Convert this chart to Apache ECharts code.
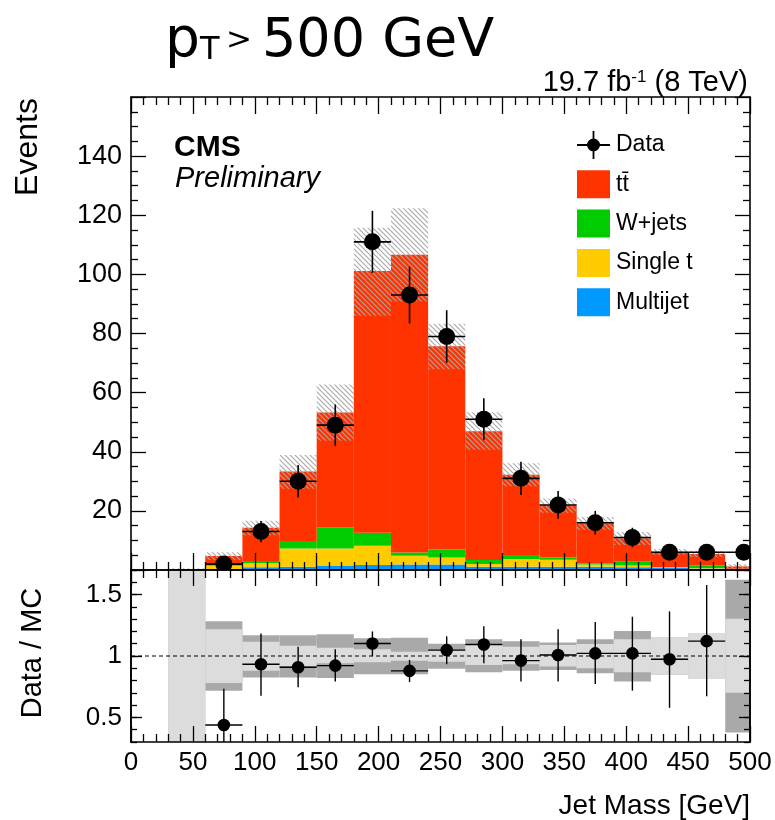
<!DOCTYPE html>
<html><head><meta charset="utf-8">
<script src="https://cdn.jsdelivr.net/npm/echarts@6/dist/echarts.min.js"></script>
<style>html,body{margin:0;padding:0;background:#fff}#c{width:775px;height:820px}</style>
</head><body><div id="c"></div>
<script>
// ---------------- data ----------------
const binLow  = [30,60,90,120,150,180,210,240,270,300,330,360,390,420,450,480];
const binHigh = [60,90,120,150,180,210,240,270,300,330,360,390,420,450,480,510];
const multijet  = [0,0.3,0.9,1.1,1.5,1.7,1.9,1.9,1.1,1.1,1.1,1.1,0.9,0.8,0.5,0.2];
const singleTop = [0,1.1,1.4,6.2,5.8,6.5,2.9,2.3,0.9,2.6,2.4,0.8,0.6,0.1,0.2,0.1];
const wJets     = [0,0.1,0.75,2.5,7.2,4.4,1.1,2.7,1.4,1.4,0.7,0.4,1.3,0.1,0.9,0.1];
const ttbar     = [0.3,3.2,11.2,23.5,38.8,88.5,100.7,68.8,43.5,27.1,17.6,13.5,7.9,5.2,3.8,0.8];
const dataCounts = [null,2,13,30,49,111,93,79,51,31,22,16,11,6,6,6];
const dataErr    = [null,1.4,3.6,5.5,7.0,10.5,9.6,8.9,7.1,5.6,4.7,4.0,3.3,2.4,2.4,2.4];
const ratioVal   = [null,0.438,0.933,0.909,0.922,1.102,0.879,1.048,1.094,0.962,1.008,1.021,1.021,0.973,1.121,null];
const ratioLow   = [null,0.14,0.677,0.745,0.793,0.998,0.788,0.933,0.941,0.793,0.793,0.772,0.718,0.578,0.672,null];
const ratioHigh  = [null,0.734,1.183,1.075,1.054,1.20,0.968,1.16,1.242,1.137,1.218,1.277,1.32,1.363,1.578,null];
const totUncLow  = [0,0.718,0.825,0.825,0.82,0.851,0.852,0.897,0.868,0.879,0.887,0.86,0.793,0.847,0.812,0.377];
const totUncHigh = [2,1.282,1.169,1.169,1.177,1.145,1.148,1.10,1.137,1.121,1.11,1.137,1.204,1.151,1.188,1.62];
const sysUncLow  = [0,0.78,0.879,0.919,0.941,0.95,0.962,0.954,0.927,0.933,0.914,0.90,0.868,0.847,0.812,0.70];
const sysUncHigh = [2,1.218,1.116,1.083,1.067,1.055,1.035,1.048,1.089,1.075,1.089,1.097,1.137,1.151,1.188,1.304];
const ratioTicks = [0.5, 1, 1.5];
const legendNames = ['Data', 'tt\u0304', 'W+jets', 'Single t', 'Multijet'];

// ---------------- helpers ----------------
const FONT = '"Liberation Sans", Arial, Helvetica, sans-serif';
const chart = echarts.init(document.getElementById('c'), null, {renderer: 'canvas'});

const pc = document.createElement('canvas'); pc.width = 5; pc.height = 5;
(function () {
  const g = pc.getContext('2d');
  g.strokeStyle = '#a8a8a8'; g.lineWidth = 1.1;
  g.beginPath();
  g.moveTo(0, 0); g.lineTo(5, 5);
  g.moveTo(-1, 4); g.lineTo(1, 6);
  g.moveTo(4, -1); g.lineTo(6, 1);
  g.stroke();
})();
const hatchFill = {image: pc, repeat: 'repeat'};

function rectRenderer(fill) {
  return function (params, api) {
    const lo = api.value(0), hi = api.value(1), b = api.value(2), t = api.value(3);
    const p1 = api.coord([lo, t]), p2 = api.coord([hi, b]);
    const cs = params.coordSys;
    const shape = echarts.graphic.clipRectByRect(
      {x: p1[0], y: p1[1], width: p2[0] - p1[0], height: p2[1] - p1[1]},
      {x: cs.x, y: cs.y, width: cs.width, height: cs.height});
    if (!shape) return null;
    return {type: 'rect', shape: shape, style: {fill: fill}};
  };
}
function pointRenderer(r, lw) {
  return function (params, api) {
    const lo = api.value(0), hi = api.value(1), v = api.value(2), down = api.value(3), up = api.value(4);
    const xc = (lo + hi) / 2;
    const c = api.coord([xc, v]), l = api.coord([lo, v]), rr = api.coord([hi, v]);
    const t = api.coord([xc, up]), b = api.coord([xc, down]);
    return {type: 'group', children: [
      {type: 'line', shape: {x1: l[0], y1: c[1], x2: rr[0], y2: c[1]}, style: {stroke: '#000', lineWidth: lw}},
      {type: 'line', shape: {x1: c[0], y1: t[1], x2: c[0], y2: b[1]}, style: {stroke: '#000', lineWidth: lw}},
      {type: 'circle', shape: {cx: c[0], cy: c[1], r: r}, style: {fill: '#000'}}
    ]};
  };
}

// cumulative stack
const comps = [
  {name: legendNames[4], vals: multijet, color: '#0099ff'},
  {name: legendNames[3], vals: singleTop, color: '#ffcc00'},
  {name: legendNames[2], vals: wJets, color: '#00cc00'},
  {name: legendNames[1], vals: ttbar, color: '#ff3300'}
];
const base = binLow.map(() => 0);
const stackSeries = comps.map(cmp => {
  const d = binLow.map((lo, i) => [lo, binHigh[i], base[i], base[i] + cmp.vals[i]]);
  cmp.vals.forEach((v, i) => { base[i] += v; });
  return {type: 'custom', name: cmp.name, xAxisIndex: 0, yAxisIndex: 0, z: 2,
    itemStyle: {color: cmp.color}, renderItem: rectRenderer(cmp.color), data: d, silent: true};
});
const mcTotal = base.slice();

const hatchData = binLow.map((lo, i) => [lo, binHigh[i], mcTotal[i] * totUncLow[i], mcTotal[i] * totUncHigh[i]]);
const mainPoints = [];
binLow.forEach((lo, i) => {
  if (dataCounts[i] !== null) mainPoints.push([lo, binHigh[i], dataCounts[i], dataCounts[i] - dataErr[i], dataCounts[i] + dataErr[i]]);
});
const ratioPoints = [];
binLow.forEach((lo, i) => {
  if (ratioVal[i] !== null) ratioPoints.push([lo, binHigh[i], ratioVal[i], ratioLow[i], ratioHigh[i]]);
});
const outerBand = binLow.map((lo, i) => [lo, binHigh[i], totUncLow[i], totUncHigh[i]]);
const innerBand = binLow.map((lo, i) => [lo, binHigh[i], sysUncLow[i], sysUncHigh[i]]);

// ---------------- axes ----------------
const AL = {show: true, onZero: false, lineStyle: {color: '#000', width: 1.6}};
function xAx(grid, pos, showLabel, tl, ml) {
  return {type: 'value', gridIndex: grid, position: pos, min: 0, max: 500, interval: 50, z: 10,
    axisLine: AL,
    axisTick: {show: true, inside: true, length: tl, lineStyle: {color: '#000', width: 1.3}},
    minorTick: {show: true, splitNumber: 5, length: ml, lineStyle: {color: '#000', width: 1.3}},
    splitLine: {show: false}, minorSplitLine: {show: false},
    axisLabel: {show: showLabel, fontFamily: FONT, fontSize: 26, color: '#000', margin: 8,
      showMinLabel: true, showMaxLabel: true}};
}
function yMain(pos, showLabel) {
  return {type: 'value', gridIndex: 0, position: pos, min: 0, max: 160, interval: 20, z: 10,
    axisLine: AL,
    axisTick: {show: true, inside: true, length: 15, lineStyle: {color: '#000', width: 1.3}},
    minorTick: {show: true, splitNumber: 4, length: 7, lineStyle: {color: '#000', width: 1.3}},
    splitLine: {show: false}, minorSplitLine: {show: false},
    axisLabel: {show: showLabel, fontFamily: FONT, fontSize: 27, color: '#000', margin: 9,
      formatter: v => (v === 0 || v === 160) ? '' : String(v)}};
}
function yRatioMajor(pos, showLabel) {
  return {type: 'value', gridIndex: 1, position: pos, min: 0.3, max: 1.7, z: 10,
    axisLine: AL,
    axisTick: {show: true, inside: true, length: 11, customValues: ratioTicks, lineStyle: {color: '#000', width: 1.3}},
    splitLine: {show: false},
    axisLabel: {show: showLabel, customValues: ratioTicks, fontFamily: FONT, fontSize: 26, color: '#000', margin: 9}};
}
function yRatioMinor(pos) {
  return {type: 'value', gridIndex: 1, position: pos, min: 0.3, max: 1.7, interval: 0.1, z: 10,
    axisLine: AL,
    axisTick: {show: true, inside: true, length: 6, lineStyle: {color: '#000', width: 1.3}},
    splitLine: {show: false}, axisLabel: {show: false}};
}

const dataIcon = 'path://M0,13 L33,13 L33,15 L0,15 Z M15.6,0 L17.4,0 L17.4,28 L15.6,28 Z M23,14 A6.5,6.5 0 1,1 10,14 A6.5,6.5 0 1,1 23,14 Z';

const option = {
  animation: false,
  backgroundColor: '#fff',
  grid: [
    {left: 131, right: 25, top: 97, height: 473, outerBoundsMode: 'none'},
    {left: 131, right: 25, top: 570, height: 172, outerBoundsMode: 'none'}
  ],
  xAxis: [xAx(0, 'bottom', false, 17, 8), xAx(0, 'top', false, 17, 8), xAx(1, 'bottom', true, 16, 8), xAx(1, 'top', false, 16, 8)],
  yAxis: [yMain('left', true), yMain('right', false), yRatioMajor('left', true), yRatioMinor('left'), yRatioMajor('right', false), yRatioMinor('right')],
  legend: {
    orient: 'vertical', left: 577, top: 131, padding: 0, itemGap: 11.3,
    itemWidth: 33, itemHeight: 28, selectedMode: false,
    textStyle: {fontFamily: FONT, fontSize: 23, color: '#000', padding: [0, 0, 0, 1]},
    data: [
      {name: legendNames[0], icon: dataIcon},
      {name: legendNames[1], icon: 'rect'},
      {name: legendNames[2], icon: 'rect'},
      {name: legendNames[3], icon: 'rect'},
      {name: legendNames[4], icon: 'rect'}
    ]
  },
  series: stackSeries.concat([
    {type: 'custom', xAxisIndex: 0, yAxisIndex: 0, z: 3, silent: true,
      renderItem: rectRenderer(hatchFill), data: hatchData},
    {type: 'custom', name: legendNames[0], xAxisIndex: 0, yAxisIndex: 0, z: 5, clip: true, silent: true,
      itemStyle: {color: '#000'}, renderItem: pointRenderer(8.5, 1.6), data: mainPoints},
    {type: 'custom', xAxisIndex: 2, yAxisIndex: 2, z: 1, silent: true,
      renderItem: rectRenderer('#a9a9a9'), data: outerBand},
    {type: 'custom', xAxisIndex: 2, yAxisIndex: 2, z: 1, silent: true,
      renderItem: rectRenderer('#dcdcdc'), data: innerBand},
    {type: 'line', xAxisIndex: 2, yAxisIndex: 2, z: 3, silent: true, symbol: 'none',
      lineStyle: {color: '#000', width: 1, type: [4, 3]}, data: [[0, 1], [500, 1]]},
    {type: 'custom', xAxisIndex: 2, yAxisIndex: 2, z: 5, clip: true, silent: true,
      renderItem: pointRenderer(6.3, 1.4), data: ratioPoints}
  ]),
  graphic: [
    {type: 'text', x: 165, y: 41.7, style: {text: 'p', font: '55px "DejaVu Sans"', fill: '#000', align: 'left', verticalAlign: 'middle'}},
    {type: 'text', x: 200, y: 50.5, style: {text: 'T', font: '32px "DejaVu Sans"', fill: '#000', align: 'left', verticalAlign: 'middle'}},
    {type: 'text', x: 226, y: 41, style: {text: '>', font: '31px "DejaVu Sans"', fill: '#000', align: 'left', verticalAlign: 'middle'}},
    {type: 'text', x: 262, y: 41.7, style: {text: '500 GeV', font: '54px "DejaVu Sans"', fill: '#000', align: 'left', verticalAlign: 'middle'}},
    {type: 'text', x: 748, y: 83, style: {text: '19.7 fb{s|-1} (8 TeV)', font: '29px ' + FONT, fill: '#000', align: 'right', verticalAlign: 'middle',
      rich: {s: {fontSize: 17, fontFamily: FONT, fill: '#000', verticalAlign: 'top'}}}},
    {type: 'text', x: 174, y: 147.7, style: {text: 'CMS', font: 'bold 30px ' + FONT, fill: '#000', align: 'left', verticalAlign: 'middle'}},
    {type: 'text', x: 175, y: 179, style: {text: 'Preliminary', font: 'italic 29px ' + FONT, fill: '#000', align: 'left', verticalAlign: 'middle'}},
    {type: 'text', x: 28, y: 147, rotation: Math.PI / 2, style: {text: 'Events', font: '32px ' + FONT, fill: '#000', align: 'center', verticalAlign: 'middle'}},
    {type: 'text', x: 33, y: 653, rotation: Math.PI / 2, style: {text: 'Data / MC', font: '29px ' + FONT, fill: '#000', align: 'center', verticalAlign: 'middle'}},
    {type: 'text', x: 750, y: 806, style: {text: 'Jet Mass [GeV]', font: '28px ' + FONT, fill: '#000', align: 'right', verticalAlign: 'middle'}}
  ]
};
chart.setOption(option);
</script></body></html>
